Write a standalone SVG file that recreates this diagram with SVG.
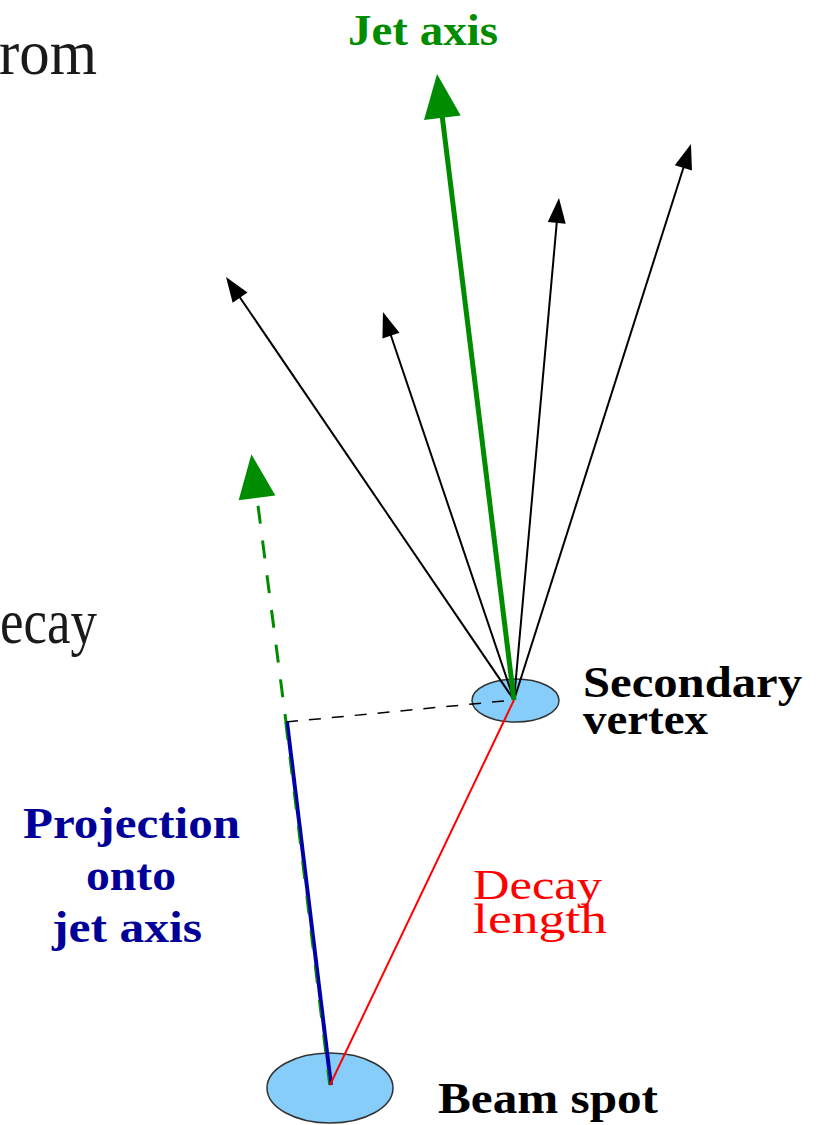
<svg xmlns="http://www.w3.org/2000/svg" width="818" height="1125" viewBox="0 0 818 1125">
<style>
.lbl{font-family:"Liberation Serif","Times New Roman",serif;font-weight:bold;font-size:44px}
.clip{font-family:"Liberation Serif","Times New Roman",serif;font-size:64px;fill:#1a1a1a}
.spot{fill:#87cdfa;stroke:#333;stroke-width:1.5}
.trk{stroke:#000;stroke-width:2;fill:none}
.jet{stroke:#008c00;fill:none}
</style>
<defs>
<marker id="ah" markerUnits="userSpaceOnUse" markerWidth="30" markerHeight="22" viewBox="0 -11 30 22" refX="3" refY="0" orient="auto" overflow="visible">
<path d="M0,-9 L25,0 L0,9 Z" fill="#000"/>
</marker>
<marker id="gh" markerUnits="userSpaceOnUse" markerWidth="50" markerHeight="40" viewBox="0 -20 50 40" refX="4" refY="0" orient="auto" overflow="visible">
<path d="M0,-18.5 L44,0 L0,18.5 Z" fill="#008c00"/>
</marker>
</defs>
<rect width="818" height="1125" fill="#fff"/>
<text class="clip" x="-1" y="74" textLength="98" lengthAdjust="spacingAndGlyphs">rom</text>
<text class="clip" x="0" y="643" textLength="97" lengthAdjust="spacingAndGlyphs">ecay</text>
<g id="secondary-vertex">
<ellipse class="spot" cx="515.5" cy="700.5" rx="43.5" ry="21.5"/>
<text class="lbl" x="583" y="697" textLength="219" lengthAdjust="spacingAndGlyphs">Secondary</text>
<text class="lbl" x="583" y="734" textLength="125" lengthAdjust="spacingAndGlyphs">vertex</text>
</g>
<g id="beam-spot">
<ellipse class="spot" cx="330" cy="1088" rx="63" ry="35"/>
<text class="lbl" x="438" y="1113" font-size="45" textLength="220" lengthAdjust="spacingAndGlyphs">Beam spot</text>
</g>
<g id="jet-axis-label">
<text class="lbl" x="348" y="45" fill="#008c00" font-size="46" textLength="150" lengthAdjust="spacingAndGlyphs">Jet axis</text>
</g>
<g id="projection-label" fill="#000099">
<text class="lbl" x="23" y="838" font-size="46" textLength="217" lengthAdjust="spacingAndGlyphs">Projection</text>
<text class="lbl" x="86" y="890" font-size="46" textLength="90" lengthAdjust="spacingAndGlyphs">onto</text>
<text class="lbl" x="52" y="942" font-size="46" textLength="150" lengthAdjust="spacingAndGlyphs">jet axis</text>
</g>
<g id="decay-label" fill="#ff0000" font-family="Liberation Serif, Times New Roman, serif" font-size="42">
<text x="473" y="899" textLength="129" lengthAdjust="spacingAndGlyphs">Decay</text>
<text x="473" y="933" textLength="134" lengthAdjust="spacingAndGlyphs">length</text>
</g>
<g id="connectors">
<line class="trk" x1="514" y1="700" x2="238.4" y2="295.2" marker-end="url(#ah)"/>
<line class="trk" x1="514" y1="700" x2="390.0" y2="332.8" marker-end="url(#ah)"/>
<line class="trk" x1="514" y1="700" x2="557.0" y2="219.9" marker-end="url(#ah)"/>
<line class="trk" x1="514" y1="700" x2="684.3" y2="165.0" marker-end="url(#ah)"/>
<line class="jet" stroke-width="5" x1="514" y1="700" x2="441.9" y2="113.7" marker-end="url(#gh)"/>
<line class="jet" stroke-width="3" stroke-dasharray="18 17" stroke-dashoffset="10" x1="286" y1="722" x2="256.5" y2="494" marker-end="url(#gh)"/>
<line stroke="#000" stroke-width="1.5" stroke-dasharray="12 11" x1="286" y1="722" x2="514" y2="700"/>
<line stroke="#0000a8" stroke-width="4" x1="287" y1="722" x2="331" y2="1085"/>
<line class="jet" stroke-width="1.5" stroke-dasharray="18 17" x1="285" y1="722" x2="329" y2="1085"/>
<line stroke="#ff0000" stroke-width="2" x1="514" y1="700" x2="330" y2="1085"/>
</g>
</svg>
